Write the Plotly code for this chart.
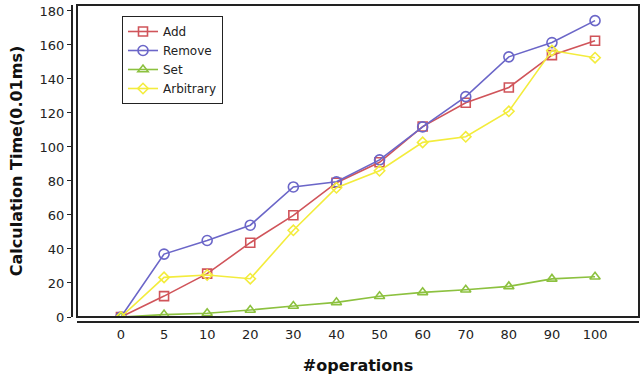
import plotly.graph_objects as go

categories = ["0", "5", "10", "20", "30", "40", "50", "60", "70", "80", "90", "100"]
add_vals = [0, 12.3, 25.5, 43.7, 59.8, 79, 91, 112, 126, 135, 154, 162.5]
remove_vals = [0, 37, 45, 54, 76.5, 79.5, 92.4, 111.8, 129.6, 153, 161.4, 174.3]
set_vals = [0, 1.4, 2.2, 4.1, 6.5, 8.6, 12.2, 14.5, 16, 18, 22.4, 23.7]
arbitrary_vals = [0, 23.3, 24.7, 22.5, 51, 76, 86, 102.7, 106, 121, 156.7, 152.5]
y_ticks = [0, 20, 40, 60, 80, 100, 120, 140, 160, 180]

idx = list(range(len(categories)))

series = [
    ("Add", add_vals, "#d0545a", "square-open", 9),
    ("Remove", remove_vals, "#6b66c8", "circle-open", 10),
    ("Set", set_vals, "#8cc13f", "triangle-up-open", 9),
    ("Arbitrary", arbitrary_vals, "#f3ec3c", "diamond-open", 8),
]

fig = go.Figure()
for name, vals, color, sym, sz in series:
    fig.add_trace(go.Scatter(
        x=idx, y=vals, name=name, mode="lines+markers",
        line=dict(color=color, width=1.6),
        marker=dict(symbol=sym, size=sz, color=color, line=dict(width=1.6, color=color)),
    ))

L, R, T, B = 72, 2, 5, 56
W, H = 641, 378
pw = W - L - R
ph = H - T - B

fig.update_layout(
    width=W, height=H,
    margin=dict(l=L, r=R, t=T, b=B, autoexpand=False),
    paper_bgcolor="white", plot_bgcolor="white",
    font=dict(family="DejaVu Sans", size=13, color="#222222"),
    showlegend=True,
    legend=dict(
        x=(122 - L) / pw, y=(H - B - 16) / ph, xanchor="left", yanchor="top",
        bgcolor="white", bordercolor="#222222", borderwidth=1,
        font=dict(size=12, color="#222222"), tracegroupgap=0,
        itemwidth=30,
    ),
    xaxis=dict(
        domain=[(77 - L) / pw, 1], anchor="free", position=0, automargin=False,
        range=[-1.02, 12.02], tickmode="array", tickvals=idx, ticktext=categories,
        showgrid=False, zeroline=False, showline=True, linecolor="#222222", linewidth=2,
        ticks="", title=dict(text="<b>#operations</b>", font=dict(size=16, color="#111111"), standoff=18),
        tickfont=dict(size=13, color="#222222"),
    ),
    yaxis=dict(
        domain=[(322 - 317) / ph, 1], anchor="free", position=0, automargin=False,
        range=[0, 183.5], tickmode="array", tickvals=y_ticks,
        showgrid=False, zeroline=False, showline=True, linecolor="#222222", linewidth=2,
        ticks="outside", ticklen=4, tickcolor="#222222",
        title=dict(text="<b>Calculation Time(0.01ms)</b>", font=dict(size=16, color="#111111"), standoff=12),
        tickfont=dict(size=13, color="#222222"),
    ),
)

fig.add_shape(type="rect", xref="x domain", yref="y domain", x0=0, x1=1, y0=0, y1=1,
              line=dict(color="#222222", width=2), fillcolor="rgba(0,0,0,0)", layer="above")

fig.write_html("out.html", config={"displayModeBar": False},
               post_script="document.body.style.margin='0';")
